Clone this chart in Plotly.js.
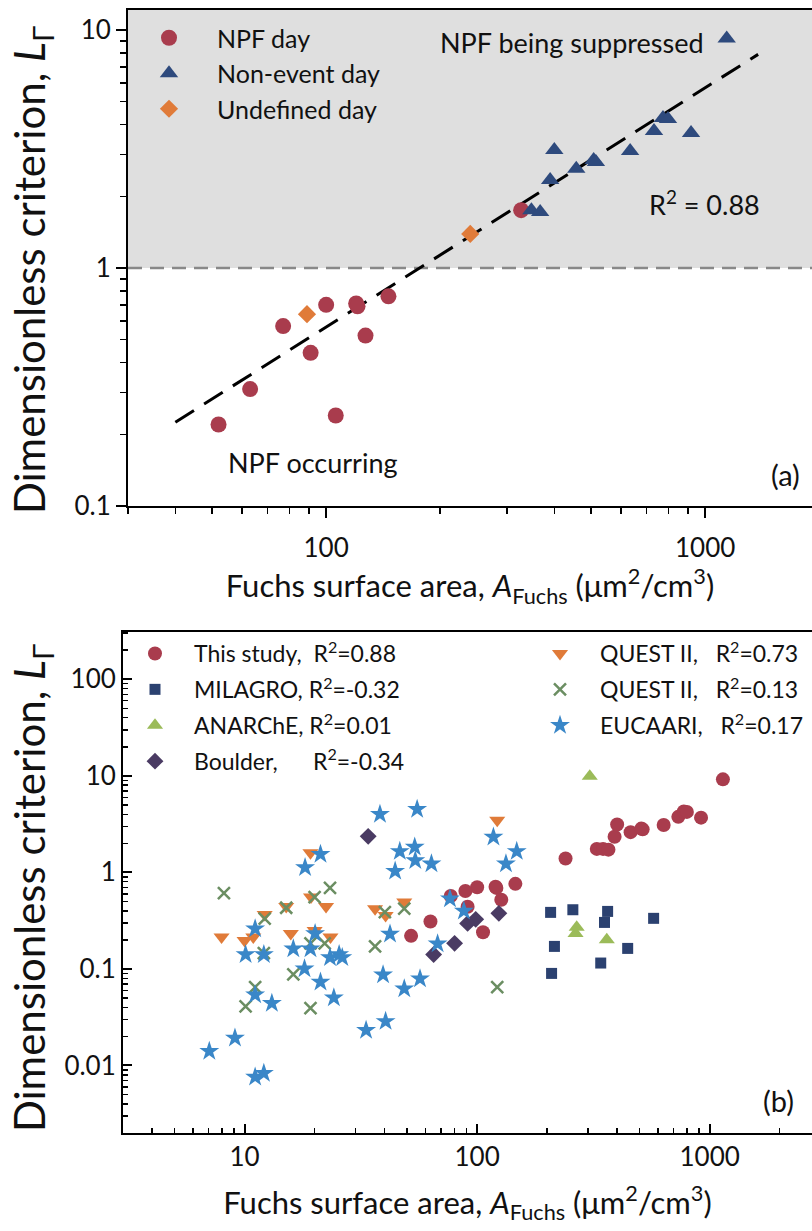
<!DOCTYPE html>
<html>
<head>
<meta charset="utf-8">
<script src="https://cdn.plot.ly/plotly-3.0.1.min.js"></script>
<style>html,body{margin:0;padding:0;background:#fff;}#chart{width:812px;height:1231px;}</style>
</head>
<body>
<div id="chart"></div>
<script>
// ---------- Panel (a) data ----------
const npf_x = [52, 63, 77, 91, 100, 106, 120, 121, 127, 146, 327];
const npf_y = [0.22, 0.31, 0.57, 0.44, 0.70, 0.24, 0.71, 0.69, 0.52, 0.76, 1.75];
const nonevent_x = [348, 367, 390, 400, 457, 508, 515, 634, 733, 774, 798, 918, 1140];
const nonevent_y = [1.75, 1.72, 2.34, 3.13, 2.61, 2.84, 2.79, 3.10, 3.76, 4.27, 4.23, 3.69, 9.2];
const undef_x = [89, 240];
const undef_y = [0.64, 1.39];
const fit_x = [40, 1380];
const fit_y = [0.225, 7.9];

// ---------- Panel (b) data ----------
const this_x = npf_x.concat(nonevent_x, undef_x);
const this_y = npf_y.concat(nonevent_y, undef_y);
const milagro_x = [207, 258, 215, 209, 340, 353, 364, 444, 574];
const milagro_y = [0.385, 0.41, 0.171, 0.0898, 0.115, 0.303, 0.394, 0.163, 0.334];
const anarche_x = [305, 268, 265, 361];
const anarche_y = [9.9, 0.27, 0.233, 0.20];
const boulder_x = [34, 65, 80, 91, 98.6, 124];
const boulder_y = [2.36, 0.141, 0.184, 0.296, 0.326, 0.376];
const questA_x = [19.2, 19.3, 22.4, 12.2, 15.1, 7.96, 10, 10.9, 15.8, 20, 23.4, 36.4, 40.4, 48.6, 122];
const questA_y = [1.6, 0.555, 0.444, 0.367, 0.444, 0.214, 0.197, 0.214, 0.232, 0.25, 0.214, 0.421, 0.358, 0.492, 3.46];
const questB_x = [8.15, 12.2, 15.1, 20, 23.3, 40.1, 48.6, 12.1, 36.4, 16.2, 11.1, 10.1, 19.2, 122, 19.2, 22.1];
const questB_y = [0.61, 0.331, 0.43, 0.555, 0.689, 0.388, 0.42, 0.146, 0.171, 0.0877, 0.0648, 0.0409, 0.0392, 0.0648, 0.184, 0.184];
const eucaari_x = [38.2, 55.2, 53.9, 46.5, 54.2, 63.6, 44.4, 21.2, 18.2, 117.5, 148, 133, 76.4, 87.7, 11.1, 20.1, 42.2, 10.1, 12.1, 16.2, 19.2, 23.3, 25.5, 26.3, 18.1, 21.2, 11.1, 13.1, 24.2, 39.4, 48.6, 56.8, 67.6, 9.09, 7.05, 11.1, 12.1, 33.3, 40.4];
const eucaari_y = [3.99, 4.5, 1.83, 1.65, 1.33, 1.23, 1.03, 1.54, 1.12, 2.32, 1.65, 1.23, 0.534, 0.397, 0.261, 0.232, 0.23, 0.141, 0.141, 0.162, 0.162, 0.131, 0.141, 0.131, 0.1005, 0.073, 0.054, 0.0441, 0.0503, 0.0871, 0.0623, 0.0791, 0.182, 0.0192, 0.014, 0.00757, 0.0083, 0.0231, 0.0286];

// tick labels
const topXTicks = [100, 1000], topXText = ['100', '1000'];
const topYTicks = [0.1, 1, 10], topYText = ['0.1', '1', '10'];
const botXTicks = [10, 100, 1000], botXText = ['10', '100', '1000'];
const botYTicks = [0.01, 0.1, 1, 10, 100], botYText = ['0.01', '0.1', '1', '10', '100'];

function minorVals(d0, d1) {
  const v = [];
  for (let d = d0; d <= d1; d++) for (let k = 2; k <= 9; k++) v.push(k * Math.pow(10, d));
  return v;
}

const FONT = 'Lato, "Open Sans", sans-serif';
const W = 812, H = 1231;
const C = {red: '#a93c4d', blue: '#2e4a7d', orange: '#e07b39', navy: '#2b4170',
           lgreen: '#9bbb59', purple: '#4a3b63', xgreen: '#6b8e62', star: '#3a87c8'};

const traces = [
  {x: fit_x, y: fit_y, mode: 'lines', line: {color: '#000', width: 3, dash: '22px,12px'},
   showlegend: false, xaxis: 'x', yaxis: 'y', hoverinfo: 'skip'},
  {x: npf_x, y: npf_y, mode: 'markers', name: 'NPF day', legendgroup: 'a1',
   marker: {symbol: 'circle', size: 16, color: C.red}, xaxis: 'x', yaxis: 'y', legend: 'legend'},
  {x: nonevent_x, y: nonevent_y, mode: 'markers', name: 'Non-event day', legendgroup: 'a2',
   marker: {symbol: 'triangle-up', size: 16, color: C.blue}, xaxis: 'x', yaxis: 'y', legend: 'legend'},
  {x: undef_x, y: undef_y, mode: 'markers', name: 'Undefined day', legendgroup: 'a3',
   marker: {symbol: 'diamond', size: 14, color: C.orange}, xaxis: 'x', yaxis: 'y', legend: 'legend'},

  {x: this_x, y: this_y, mode: 'markers', name: 'This study,\u00a0\u00a0R<sup>2</sup>=0.88', legendgroup: 'b1',
   marker: {symbol: 'circle', size: 14, color: C.red}, xaxis: 'x2', yaxis: 'y2', legend: 'legend2'},
  {x: milagro_x, y: milagro_y, mode: 'markers', name: 'MILAGRO, R<sup>2</sup>=-0.32', legendgroup: 'b2',
   marker: {symbol: 'square', size: 11, color: C.navy}, xaxis: 'x2', yaxis: 'y2', legend: 'legend2'},
  {x: anarche_x, y: anarche_y, mode: 'markers', name: 'ANARChE, R<sup>2</sup>=0.01', legendgroup: 'b3',
   marker: {symbol: 'triangle-up', size: 14, color: C.lgreen}, xaxis: 'x2', yaxis: 'y2', legend: 'legend2'},
  {x: boulder_x, y: boulder_y, mode: 'markers', name: 'Boulder,\u00a0\u00a0\u00a0\u00a0\u00a0\u00a0R<sup>2</sup>=-0.34', legendgroup: 'b4',
   marker: {symbol: 'diamond', size: 13, color: C.purple}, xaxis: 'x2', yaxis: 'y2', legend: 'legend2'},
  {x: questA_x, y: questA_y, mode: 'markers', name: 'QUEST II,\u00a0\u00a0\u00a0R<sup>2</sup>=0.73', legendgroup: 'c1',
   marker: {symbol: 'triangle-down', size: 14, color: C.orange}, xaxis: 'x2', yaxis: 'y2', legend: 'legend3'},
  {x: questB_x, y: questB_y, mode: 'markers', name: 'QUEST II,\u00a0\u00a0\u00a0R<sup>2</sup>=0.13', legendgroup: 'c2',
   marker: {symbol: 'x-thin-open', size: 12, color: C.xgreen, line: {color: C.xgreen, width: 2.5}}, xaxis: 'x2', yaxis: 'y2', legend: 'legend3'},
  {x: eucaari_x, y: eucaari_y, mode: 'markers', name: 'EUCAARI,\u00a0\u00a0\u00a0R<sup>2</sup>=0.17', legendgroup: 'c3',
   marker: {symbol: 'star', size: 15, color: C.star}, xaxis: 'x2', yaxis: 'y2', legend: 'legend3'}
];

const axisCommon = {type: 'log', showgrid: false, zeroline: false, showline: true, linecolor: '#000',
  linewidth: 2, tickcolor: '#000', tickwidth: 2, tickfont: {family: FONT, size: 26, color: '#111'}};
const xTitleFont = {family: FONT, size: 31, color: '#111'};
const yTitleFont = {family: FONT, size: 42, color: '#111'};
const xTitle = 'Fuchs surface area, <i>A</i><sub>Fuchs</sub> (μm<sup>2</sup>/cm<sup>3</sup>)';
const yTitle = 'Dimensionless criterion, <i>L</i><sub>Γ</sub>';
const annFont = {family: FONT, size: 27, color: '#111'};

const legendCommon = {bgcolor: 'rgba(0,0,0,0)', borderwidth: 0, xanchor: 'left', yanchor: 'top',
  traceorder: 'grouped', itemclick: false, itemdoubleclick: false};

const layout = {
  width: W, height: H, margin: {l: 0, r: 0, t: 0, b: 0},
  paper_bgcolor: '#fff', plot_bgcolor: '#fff', font: {family: FONT, color: '#111'},
  xaxis: Object.assign({}, axisCommon, {domain: [128 / W, 1], range: [Math.log10(30), 3.282],
    tickvals: topXTicks, ticktext: topXText, ticks: 'outside', ticklen: 10, mirror: true, ticklabelstandoff: 8,
    minor: {tickvals: minorVals(1, 3).filter(v => v >= 30 && v <= 2000), ticks: 'outside', ticklen: 6, tickwidth: 1.5, tickcolor: '#000', showgrid: false},
    title: {text: xTitle, font: xTitleFont, standoff: 6}, anchor: 'y'}),
  yaxis: Object.assign({}, axisCommon, {domain: [1 - 506 / H, 1 - 10 / H], range: [-1, 1.084],
    tickvals: topYTicks, ticktext: topYText, ticks: 'outside', ticklen: 10,
    minor: {tickvals: minorVals(-1, 0), ticks: 'outside', ticklen: 6, tickwidth: 1.5, tickcolor: '#000', showgrid: false},
    anchor: 'x'}),
  xaxis2: Object.assign({}, axisCommon, {domain: [123 / W, 1], range: [Math.log10(3), 3.44],
    tickvals: botXTicks, ticktext: botXText, ticks: 'inside', ticklen: 9, mirror: true,
    minor: {tickvals: minorVals(0, 3).filter(v => v >= 3), ticks: 'inside', ticklen: 5, tickwidth: 1.5, tickcolor: '#000', showgrid: false},
    title: {text: xTitle, font: xTitleFont, standoff: 21}, anchor: 'y2'}),
  yaxis2: Object.assign({}, axisCommon, {domain: [1 - 1133 / H, 1 - 632 / H], range: [-2.7, 2.49],
    tickvals: botYTicks, ticktext: botYText, ticks: 'inside', ticklen: 9,
    minor: {tickvals: minorVals(-3, 2).filter(v => v >= 0.002 && v <= 300), ticks: 'inside', ticklen: 5, tickwidth: 1.5, tickcolor: '#000', showgrid: false},
    anchor: 'x2'}),
  shapes: [
    {type: 'rect', xref: 'x domain', yref: 'y', x0: 0, x1: 1, y0: 1, y1: 12.2, fillcolor: '#dfdfdf', line: {width: 0}, layer: 'below'},
    {type: 'line', xref: 'x domain', yref: 'y', x0: 0, x1: 1, y0: 1, y1: 1, line: {color: '#888', width: 2.5, dash: '14px,8px'}, layer: 'below'}
  ],
  annotations: [
    {text: yTitle, textangle: -90, xref: 'paper', yref: 'paper', x: 32 / W, y: 1 - 270 / H, xanchor: 'center', yanchor: 'middle', showarrow: false, font: yTitleFont},
    {text: yTitle, textangle: -90, xref: 'paper', yref: 'paper', x: 32 / W, y: 1 - 888 / H, xanchor: 'center', yanchor: 'middle', showarrow: false, font: yTitleFont},
    {text: 'NPF being suppressed', xref: 'paper', yref: 'paper', x: 572 / W, y: 1 - 43 / H, xanchor: 'center', yanchor: 'middle', showarrow: false, font: annFont},
    {text: 'R<sup>2</sup> = 0.88', xref: 'paper', yref: 'paper', x: 704 / W, y: 1 - 203 / H, xanchor: 'center', yanchor: 'middle', showarrow: false, font: annFont},
    {text: 'NPF occurring', xref: 'paper', yref: 'paper', x: 313 / W, y: 1 - 463 / H, xanchor: 'center', yanchor: 'middle', showarrow: false, font: annFont},
    {text: '(a)', xref: 'paper', yref: 'paper', x: 785 / W, y: 1 - 474 / H, xanchor: 'center', yanchor: 'middle', showarrow: false, font: {family: FONT, size: 29, color: '#111'}},
    {text: '(b)', xref: 'paper', yref: 'paper', x: 778 / W, y: 1 - 1100 / H, xanchor: 'center', yanchor: 'middle', showarrow: false, font: {family: FONT, size: 29, color: '#111'}}
  ],
  legend: Object.assign({}, legendCommon, {x: 121 / W, y: 1 - 15 / H, font: {family: FONT, size: 25, color: '#111'}, tracegroupgap: 0, itemwidth: 86}),
  legend2: Object.assign({}, legendCommon, {x: 116 / W, y: 1 - 632 / H, font: {family: FONT, size: 23, color: '#111'}, tracegroupgap: 3, itemwidth: 68}),
  legend3: Object.assign({}, legendCommon, {x: 520 / W, y: 1 - 632 / H, font: {family: FONT, size: 23, color: '#111'}, tracegroupgap: 3, itemwidth: 70})
};

Plotly.newPlot('chart', traces, layout, {displayModeBar: false, staticPlot: true});
</script>
</body>
</html>
